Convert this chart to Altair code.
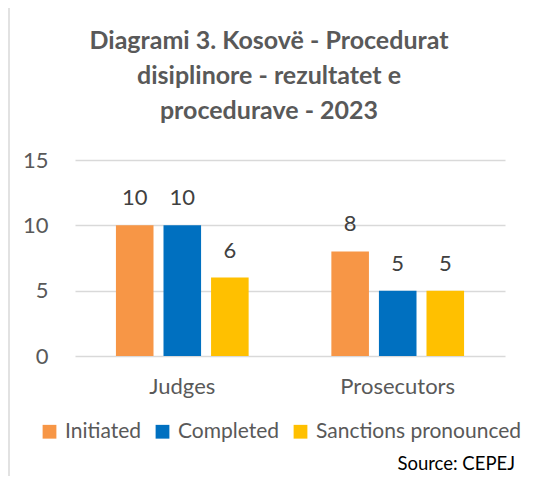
import altair as alt
import pandas as pd

categories = ["Judges", "Prosecutors"]
series = ["Initiated", "Completed", "Sanctions pronounced"]
initiated = [10, 8]
completed = [10, 5]
sanctions = [6, 5]
colors = ["#F79646", "#0070C0", "#FFC000"]
title_lines = ["Diagrami 3. Kosovë - Procedurat", "disiplinore - rezultatet e", "procedurave - 2023"]
source_text = "Source: CEPEJ"

rows = []
for s, vals in zip(series, [initiated, completed, sanctions]):
    for c, v in zip(categories, vals):
        rows.append({"category": c, "series": s, "value": v})
df = pd.DataFrame(rows)

FONT = "Lato"
GREY = "#595959"
LBL = 22

base = alt.Chart(df).encode(
    x=alt.X("category:N", sort=categories,
            scale=alt.Scale(paddingInner=0.384, paddingOuter=0.19),
            axis=alt.Axis(title=None, labelAngle=0, domain=False, ticks=False,
                          labelFont=FONT, labelFontSize=LBL, labelColor=GREY,
                          labelPadding=20)),
    xOffset=alt.XOffset("series:N", sort=series, scale=alt.Scale(paddingInner=0.21)),
    y=alt.Y("value:Q", scale=alt.Scale(domain=[0, 15]),
            axis=alt.Axis(title=None, values=[0, 5, 10, 15], domain=False, ticks=False,
                          labelFont=FONT, labelFontSize=LBL, labelColor=GREY,
                          labelPadding=27, gridColor="#D9D9D9", gridWidth=1.3)),
)

bars = base.mark_bar().encode(
    color=alt.Color("series:N", sort=series,
                    scale=alt.Scale(domain=series, range=colors),
                    legend=alt.Legend(title=None, orient="none", direction="horizontal",
                                      legendX=-36, legendY=261,
                                      symbolType="square", symbolSize=190,
                                      symbolStrokeWidth=0, labelFont=FONT,
                                      labelFontSize=21, labelColor=GREY, labelLimit=0,
                                      labelOffset=5, columnPadding=10))
)

labels = base.mark_text(baseline="bottom", dy=-15, font=FONT, fontSize=LBL,
                        color="#404040").encode(text="value:Q")

title = alt.Chart(pd.DataFrame({"a": [0]})).mark_text(
    align="center", baseline="alphabetic", font=FONT, fontSize=25, fontWeight="bold",
    color=GREY, lineHeight=35
).encode(text=alt.value(title_lines), x=alt.value(194), y=alt.value(-111))

source = alt.Chart(pd.DataFrame({"t": [source_text]})).mark_text(
    align="right", baseline="alphabetic", font=FONT, fontSize=18.5, color="#000000"
).encode(text="t:N", x=alt.value(440), y=alt.value(310))

border = alt.Chart(pd.DataFrame({"a": [0]})).mark_rule(color="#D9D9D9", strokeWidth=1.5).encode(
    x=alt.value(-66), y=alt.value(-156), y2=alt.value(330))
border_top = alt.Chart(pd.DataFrame({"a": [0]})).mark_rule(color="#D9D9D9", strokeWidth=1.5).encode(
    x=alt.value(-66), x2=alt.value(460), y=alt.value(-156))

chart = alt.layer(bars, labels, title, source, border, border_top).properties(
    width=430, height=196,
    padding={"left": 67, "top": 152, "right": 20, "bottom": 120},
    autosize=alt.AutoSizeParams(type="none"),
).configure_view(stroke=None)

chart.save("out.html", embed_options={"renderer": "svg", "actions": False})
